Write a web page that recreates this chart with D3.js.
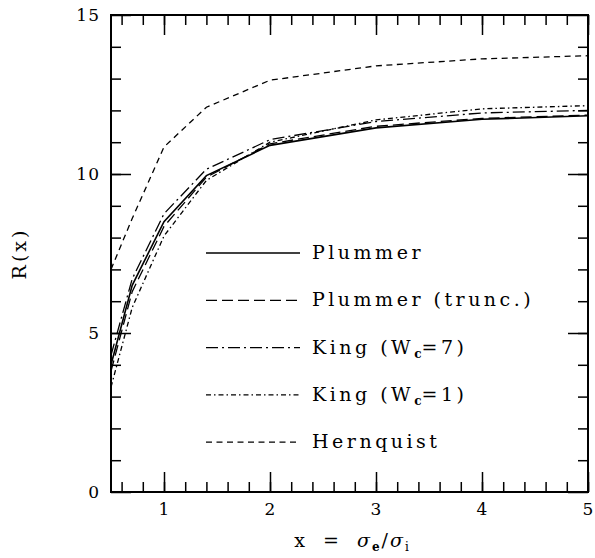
<!DOCTYPE html>
<html>
<head>
<meta charset="utf-8">
<script src="https://cdn.jsdelivr.net/npm/d3@7"></script>
<style>
  body { margin: 0; background: #fff; }
  text { font-family: "DejaVu Serif", serif; fill: #000; }
</style>
</head>
<body>
<div id="chart"></div>
<script>
// values
const xValues = [0.5, 0.7, 1.0, 1.4, 2.0, 3.0, 4.0, 5.0];
const plummer = [4.0, 6.5, 8.5, 9.95, 10.9, 11.45, 11.72, 11.83];
const plummerTrunc = [3.8, 6.3, 8.35, 9.9, 10.95, 11.5, 11.75, 11.85];
const king7 = [4.3, 6.7, 8.75, 10.15, 11.08, 11.65, 11.92, 12.0];
const king1 = [3.3, 5.8, 8.05, 9.8, 11.0, 11.7, 12.05, 12.15];
const hernquist = [7.0, 8.6, 10.85, 12.1, 12.95, 13.4, 13.62, 13.72];

const seriesNames = ["Plummer", "Plummer (trunc.)", "King (W_c=7)", "King (W_c=1)", "Hernquist"];
const seriesValues = [plummer, plummerTrunc, king7, king1, hernquist];
const dashes = [null, "11,5", "12,4,2,4", "5,3,1.5,3", "6,4.5"];

const xMajor = [1, 2, 3, 4, 5];
const xMinor = d3.range(0.6, 5.01, 0.2);
const yMajor = [0, 5, 10, 15];
const yMinor = d3.range(1, 15, 1);

const W = 595, H = 558;
const margin = {top: 15, right: 7, bottom: 66, left: 111};

const svg = d3.select("#chart").append("svg")
    .attr("width", W)
    .attr("height", H);

const x = d3.scaleLinear().domain([0.5, 5]).range([margin.left, W - margin.right]);
const y = d3.scaleLinear().domain([0, 15]).range([H - margin.bottom, margin.top]);

// ticks on all four sides, pointing inward
function tickAxis(axis, vals, size, pos, labels) {
    const g = svg.append("g")
        .attr("transform", pos)
        .call(axis.tickValues(vals).tickSize(-size).tickPadding(labels ? 11 : 0)
            .tickFormat(labels ? d3.format("d") : ""));
    g.select(".domain").remove();
    g.selectAll(".tick line").attr("stroke", "#000").attr("stroke-width", 1.5);
    g.selectAll(".tick text").style("font-size", "17px").style("font-family", "'DejaVu Serif', serif")
        .style("letter-spacing", "1px");
    return g;
}
const bottomY = y(0), topY = y(15), leftX = x(0.5), rightX = x(5);
tickAxis(d3.axisBottom(x), xMinor, 10, `translate(0,${bottomY})`, false);
tickAxis(d3.axisBottom(x), xMajor, 20, `translate(0,${bottomY})`, true);
tickAxis(d3.axisTop(x), xMinor, 10, `translate(0,${topY})`, false);
tickAxis(d3.axisTop(x), xMajor, 20, `translate(0,${topY})`, false);
tickAxis(d3.axisLeft(y), yMinor, 10, `translate(${leftX},0)`, false);
tickAxis(d3.axisLeft(y), yMajor, 20, `translate(${leftX},0)`, true);
tickAxis(d3.axisRight(y), yMinor, 10, `translate(${rightX},0)`, false);
tickAxis(d3.axisRight(y), yMajor, 20, `translate(${rightX},0)`, false);

svg.append("rect")
    .attr("x", leftX).attr("y", topY)
    .attr("width", rightX - leftX).attr("height", bottomY - topY)
    .attr("fill", "none").attr("stroke", "#000").attr("stroke-width", 2);

// curves
const line = d3.line()
    .x((d, i) => x(xValues[i]))
    .y(d => y(d));

svg.selectAll(".curve")
    .data(seriesValues)
    .enter()
    .append("path")
    .attr("class", "curve")
    .attr("d", d => line(d))
    .attr("fill", "none")
    .attr("stroke", "#000")
    .attr("stroke-width", (d, i) => i === 0 ? 1.6 : 1.3)
    .attr("stroke-dasharray", (d, i) => dashes[i]);

// legend
const legend = svg.append("g");
seriesNames.forEach(function(name, i) {
    let ly = 253 + i * 47.3;
    legend.append("line")
        .attr("x1", 206).attr("x2", 300)
        .attr("y1", ly).attr("y2", ly)
        .attr("stroke", "#000")
        .attr("stroke-width", i === 0 ? 1.6 : 1.3)
        .attr("stroke-dasharray", dashes[i]);
    let t = legend.append("text")
        .attr("x", 312).attr("y", ly + 6)
        .attr("xml:space", "preserve")
        .style("font-size", "19px")
        .style("letter-spacing", "3.5px")
        .style("white-space", "pre");
    if (name.includes("_")) {
        let parts = name.split("_c");
        t.append("tspan").text(parts[0]);
        t.append("tspan").attr("dy", 4).style("font-size", "12px").style("font-weight", "bold")
            .style("letter-spacing", "0px").text("c");
        t.append("tspan").attr("dy", -4).text(parts[1]);
    } else {
        t.text(name);
    }
});

// axis titles
svg.append("text")
    .attr("transform", `translate(26,${(topY + bottomY) / 2}) rotate(-90)`)
    .attr("text-anchor", "middle")
    .style("font-size", "19px")
    .style("letter-spacing", "3px")
    .text("R(x)");

const xt = svg.append("text")
    .attr("x", (leftX + rightX) / 2 + 3)
    .attr("y", 547)
    .attr("text-anchor", "middle")
    .attr("xml:space", "preserve")
    .style("font-size", "19px")
    .style("letter-spacing", "2px")
    .style("white-space", "pre");
xt.append("tspan").text("x  =  ");
xt.append("tspan").style("font-style", "italic").text("σ");
xt.append("tspan").attr("dy", 4).style("font-size", "12px").style("font-weight", "bold").text("e");
xt.append("tspan").attr("dy", -4).text("/");
xt.append("tspan").style("font-style", "italic").text("σ");
xt.append("tspan").attr("dy", 4).style("font-size", "12px").text("i");
</script>
</body>
</html>
